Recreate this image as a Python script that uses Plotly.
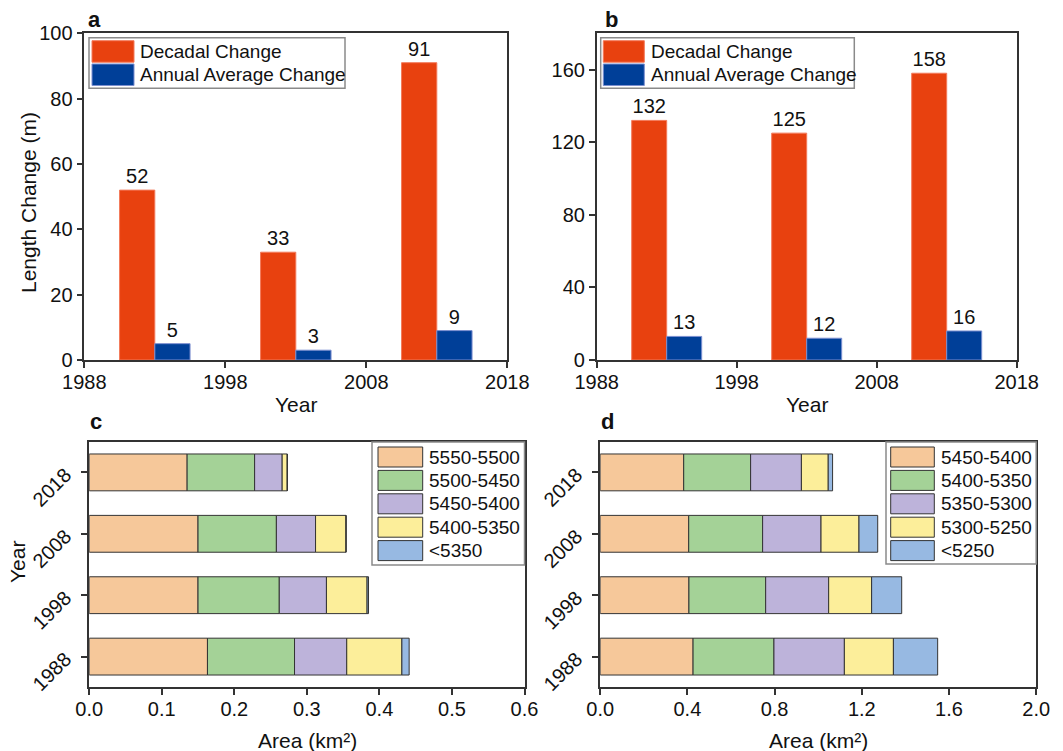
import numpy as np
import plotly.graph_objects as go

# ---------------- data ----------------
period_mid = [1993, 2003, 2013]
year_ticks = [1988, 1998, 2008, 2018]
ab_series = ["Decadal Change", "Annual Average Change"]

a_decadal = [52, 33, 91]
a_annual = [5, 3, 9]
b_decadal = [132, 125, 158]
b_annual = [13, 12, 16]

area_years = ["1988", "1998", "2008", "2018"]
c_bands = ["5550-5500", "5500-5450", "5450-5400", "5400-5350", "<5350"]
c_5550_5500 = [0.163, 0.150, 0.150, 0.135]
c_5500_5450 = [0.120, 0.112, 0.108, 0.093]
c_5450_5400 = [0.072, 0.065, 0.054, 0.038]
c_5400_5350 = [0.076, 0.056, 0.042, 0.007]
c_below_5350 = [0.010, 0.002, 0.0, 0.0]

d_bands = ["5450-5400", "5400-5350", "5350-5300", "5300-5250", "<5250"]
d_5450_5400 = [0.426, 0.407, 0.406, 0.383]
d_5400_5350 = [0.371, 0.352, 0.339, 0.307]
d_5350_5300 = [0.323, 0.289, 0.268, 0.233]
d_5300_5250 = [0.225, 0.197, 0.174, 0.123]
d_below_5250 = [0.203, 0.138, 0.086, 0.020]

# ---------------- style ----------------
W, H = 1063, 751
FONT = "Liberation Sans, Arial, Helvetica, sans-serif"
RED, NAVY = "#E8410F", "#003F98"
RED_EDGE, NAVY_EDGE = "#F37A5A", "#7C8FD0"
BAND_COLORS = ["#F6C89A", "#A4D297", "#BDB3DA", "#FCEE9A", "#97B9E2"]
EDGE = "#333333"
TXT = "#111111"

def xd(a, b):
    return [a / W, b / W]

def yd(top, bottom):
    return [1 - bottom / H, 1 - top / H]

fig = go.Figure()

# ---------------- panels a & b ----------------
for ax, dec, ann in [("", a_decadal, a_annual), ("2", b_decadal, b_annual)]:
    for name, vals, col, edge, off in [
        (ab_series[0], dec, RED, RED_EDGE, -2.5),
        (ab_series[1], ann, NAVY, NAVY_EDGE, 0.0),
    ]:
        fig.add_trace(go.Bar(
            x=period_mid, y=vals, name=name, width=2.5, offset=off,
            offsetgroup=name, marker=dict(color=col, line=dict(color=edge, width=1)),
            text=[str(v) for v in vals], textposition="outside",
            constraintext="none", cliponaxis=False,
            textfont=dict(family=FONT, size=20, color=TXT),
            xaxis="x" + ax, yaxis="y" + ax, showlegend=False,
        ))

# ---------------- panels c & d ----------------
c_series = [c_5550_5500, c_5500_5450, c_5450_5400, c_5400_5350, c_below_5350]
d_series = [d_5450_5400, d_5400_5350, d_5350_5300, d_5300_5250, d_below_5250]
for ax, bands, series in [("3", c_bands, c_series), ("4", d_bands, d_series)]:
    arr = np.array(series)
    bases = np.vstack([np.zeros(arr.shape[1]), np.cumsum(arr, axis=0)[:-1]])
    for i, (name, vals) in enumerate(zip(bands, series)):
        fig.add_trace(go.Bar(
            y=area_years, x=vals, base=bases[i], orientation="h", name=name,
            width=0.6, offset=-0.3, offsetgroup="stack" + ax,
            marker=dict(color=BAND_COLORS[i], line=dict(color=EDGE, width=1)),
            xaxis="x" + ax, yaxis="y" + ax, showlegend=False,
        ))

axis_common = dict(
    showline=True, linecolor=EDGE, linewidth=1.5, mirror=True,
    ticks="outside", ticklen=6, tickwidth=1.5, tickcolor=EDGE,
    showgrid=False, zeroline=False, automargin=False,
    tickfont=dict(family=FONT, size=20, color=TXT),
)
xaxis_common = dict(axis_common, ticklabelstandoff=-3)

fig.update_layout(
    width=W, height=H, margin=dict(l=0, r=0, t=0, b=0, autoexpand=False),
    paper_bgcolor="white", plot_bgcolor="white",
    barmode="group", showlegend=False,
    font=dict(family=FONT, size=20, color=TXT),
    xaxis=dict(xaxis_common, domain=xd(84.3, 507.3), anchor="y", range=[1988, 2018],
               tickvals=year_ticks),
    yaxis=dict(axis_common, domain=yd(33.3, 360), anchor="x", range=[0, 100], dtick=20),
    xaxis2=dict(xaxis_common, domain=xd(596.7, 1016.7), anchor="y2", range=[1988, 2018],
                tickvals=year_ticks),
    yaxis2=dict(axis_common, domain=yd(33.3, 360), anchor="x2", range=[0, 180], dtick=40),
    xaxis3=dict(xaxis_common, domain=xd(89.2, 524.5), anchor="y3", range=[0, 0.6], dtick=0.1,
                tickformat=".1f"),
    yaxis3=dict(axis_common, domain=yd(441.7, 687.3), anchor="x3", type="category",
                range=[-0.5, 3.5], tickangle=-45, ticklabelstandoff=12),
    xaxis4=dict(xaxis_common, domain=xd(600.2, 1036.2), anchor="y4", range=[0, 2.0], dtick=0.4,
                tickformat=".1f"),
    yaxis4=dict(axis_common, domain=yd(441.7, 687.3), anchor="x4", type="category",
                range=[-0.5, 3.5], tickangle=-45, ticklabelstandoff=12),
)

shapes, annots = [], []

def px_text(text, x, y, size=21, angle=0, xanchor="center", yanchor="middle"):
    annots.append(dict(text=text, xref="paper", yref="paper", x=x / W, y=1 - y / H,
                       xanchor=xanchor, yanchor=yanchor, textangle=angle, showarrow=False,
                       font=dict(family=FONT, size=size, color=TXT)))

# axis titles
px_text("Length Change (m)", 28, 203, angle=-90)
px_text("Year", 296, 405)
px_text("Year", 807, 405)
px_text("Year", 17, 562, angle=-90)
px_text("Area (km²)", 307, 740)
px_text("Area (km²)", 818, 740)

# ---------------- custom legends (large swatches) ----------------
def px_rect(x0, y0, x1, y1, fill, line, lw):
    shapes.append(dict(type="rect", xref="paper", yref="paper",
                       x0=x0 / W, x1=x1 / W, y0=1 - y1 / H, y1=1 - y0 / H,
                       fillcolor=fill, line=dict(color=line, width=lw), layer="above"))

def add_legend(box, sw_x, sw_top, sw_h, pitch, text_x, names, fills, edges):
    px_rect(*box, "white", "#8a8a8a", 1.5)
    for i, (n, f, e) in enumerate(zip(names, fills, edges)):
        top = sw_top + i * pitch
        px_rect(sw_x[0], top, sw_x[1], top + sw_h, f, e, 1)
        px_text(n, text_x, top + sw_h / 2, size=19, xanchor="left")

add_legend((89, 37.7, 345, 88.3), (92, 134), 40.7, 21.5, 23.3, 138,
           ab_series, [RED, NAVY], [RED_EDGE, NAVY_EDGE])
add_legend((600.7, 37.7, 854.3, 88.3), (603.3, 644.3), 40.7, 21.5, 23.3, 649,
           ab_series, [RED, NAVY], [RED_EDGE, NAVY_EDGE])
add_legend((372, 442, 524.5, 565), (378, 422.7), 447, 20, 23.4, 427,
           c_bands, BAND_COLORS, [EDGE] * 5)
add_legend((886, 442, 1036.2, 564), (890.7, 934.3), 447, 20, 23.4, 939,
           d_bands, BAND_COLORS, [EDGE] * 5)

# panel letters
for letter, x, y in [("a", 86, 20), ("b", 603, 20), ("c", 88, 421), ("d", 599, 421)]:
    px_text("<b>%s</b>" % letter, x, y, size=22, xanchor="left")

fig.update_layout(shapes=shapes, annotations=annots)
fig.write_html("out.html", config={"displayModeBar": False},
               post_script="document.body.style.margin='0';")
